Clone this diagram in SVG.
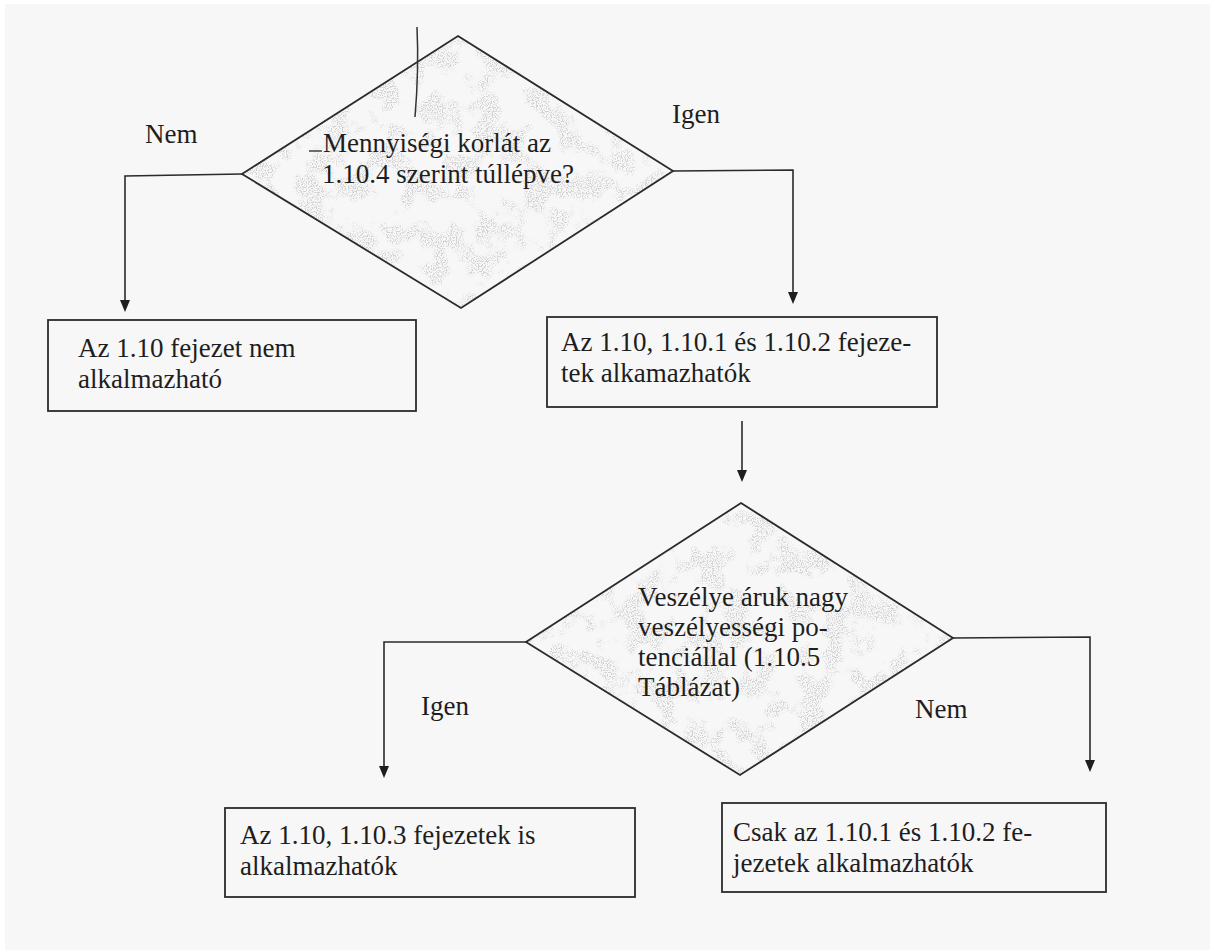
<svg xmlns="http://www.w3.org/2000/svg" width="1210" height="950" viewBox="0 0 1210 950">
  <style>
    .shape { fill: none; stroke: #2b2b2b; stroke-width: 1.8; }
    .conn { fill: none; stroke: #2b2b2b; stroke-width: 1.6; }
    .head { fill: #1e1e1e; }
    text { font-family: 'Liberation Serif', 'Times New Roman', 'DejaVu Serif', serif; font-size: 27px; fill: #1e1e1e; }
  </style>
  <defs>
    <filter id="speckle" x="0" y="0" width="100%" height="100%">
      <feTurbulence type="fractalNoise" baseFrequency="0.04" numOctaves="3" seed="3" result="low"/>
      <feColorMatrix in="low" type="matrix" values="0 0 0 0 0  0 0 0 0 0  0 0 0 0 0  7 0 0 0 -3.3" result="mask"/>
      <feTurbulence type="fractalNoise" baseFrequency="0.8" numOctaves="1" seed="9" result="high"/>
      <feColorMatrix in="high" type="matrix" values="0 0 0 0 0.62  0 0 0 0 0.62  0 0 0 0 0.62  8 0 0 0 -3.9" result="dots"/>
      <feComposite in="dots" in2="mask" operator="in" result="blob"/>
      <feComposite in="blob" in2="SourceGraphic" operator="in"/>
    </filter>
  </defs>

  <rect x="0" y="0" width="1210" height="950" fill="#ffffff"/>
  <rect x="5" y="4" width="1205" height="946" fill="#f7f7f7"/>

  <g id="connectors">
    <polyline class="conn" points="242,174 125,176 125,300"/>
    <polyline class="conn" points="673,171 793,170 793,292"/>
    <line class="conn" x1="742" y1="421" x2="742" y2="470"/>
    <polyline class="conn" points="526,642 384,642 384,766"/>
    <polyline class="conn" points="953,638 1090,637 1090,760"/>
    <path class="head" d="M120,300 L130,300 L125,312 Z"/>
    <path class="head" d="M788,292 L798,292 L793,304 Z"/>
    <path class="head" d="M737,470 L747,470 L742,482 Z"/>
    <path class="head" d="M379,766 L389,766 L384,778 Z"/>
    <path class="head" d="M1085,760 L1095,760 L1090,772 Z"/>
  </g>

  <g id="label-nem-1"><text x="145" y="143">Nem</text></g>
  <g id="label-igen-1"><text x="672" y="123">Igen</text></g>
  <g id="label-igen-2"><text x="421" y="715">Igen</text></g>
  <g id="label-nem-2"><text x="915" y="718">Nem</text></g>

  <g id="decision-1">
    <polygon points="458,36 673,171 461,308 242,174" fill="#fff" filter="url(#speckle)" opacity="0.9"/>
    <polygon class="shape" points="458,36 673,171 461,308 242,174"/>
    <path d="M417,27 Q419,70 415,117" fill="none" stroke="#333" stroke-width="1.5"/>
    <line x1="309" y1="151" x2="322" y2="151" stroke="#333" stroke-width="1.4"/>
    <text x="323" y="152">Mennyiségi korlát az</text>
    <text x="322" y="183">1.10.4 szerint túllépve?</text>
  </g>

  <g id="box-not-applicable">
    <rect class="shape" x="48" y="320" width="368" height="91"/>
    <text x="78" y="357">Az 1.10 fejezet nem</text>
    <text x="78" y="388">alkalmazható</text>
  </g>

  <g id="box-applicable">
    <rect class="shape" x="547" y="317" width="390" height="90"/>
    <text x="561" y="351">Az 1.10, 1.10.1 és 1.10.2 fejeze-</text>
    <text x="561" y="382">tek alkamazhatók</text>
  </g>

  <g id="decision-2">
    <polygon points="741,503 953,638 740,775 526,642" fill="#fff" filter="url(#speckle)" opacity="0.9"/>
    <polygon class="shape" points="741,503 953,638 740,775 526,642"/>
    <text x="638" y="606">Veszélye áruk nagy</text>
    <text x="638" y="636">veszélyességi po-</text>
    <text x="638" y="666">tenciállal (1.10.5</text>
    <text x="638" y="696">Táblázat)</text>
  </g>

  <g id="box-also-applicable">
    <rect class="shape" x="225" y="808" width="410" height="89"/>
    <text x="240" y="844">Az 1.10, 1.10.3 fejezetek is</text>
    <text x="240" y="875">alkalmazhatók</text>
  </g>

  <g id="box-only">
    <rect class="shape" x="722" y="803" width="384" height="89"/>
    <text x="733" y="841">Csak az 1.10.1 és 1.10.2 fe-</text>
    <text x="733" y="872">jezetek alkalmazhatók</text>
  </g>
</svg>
